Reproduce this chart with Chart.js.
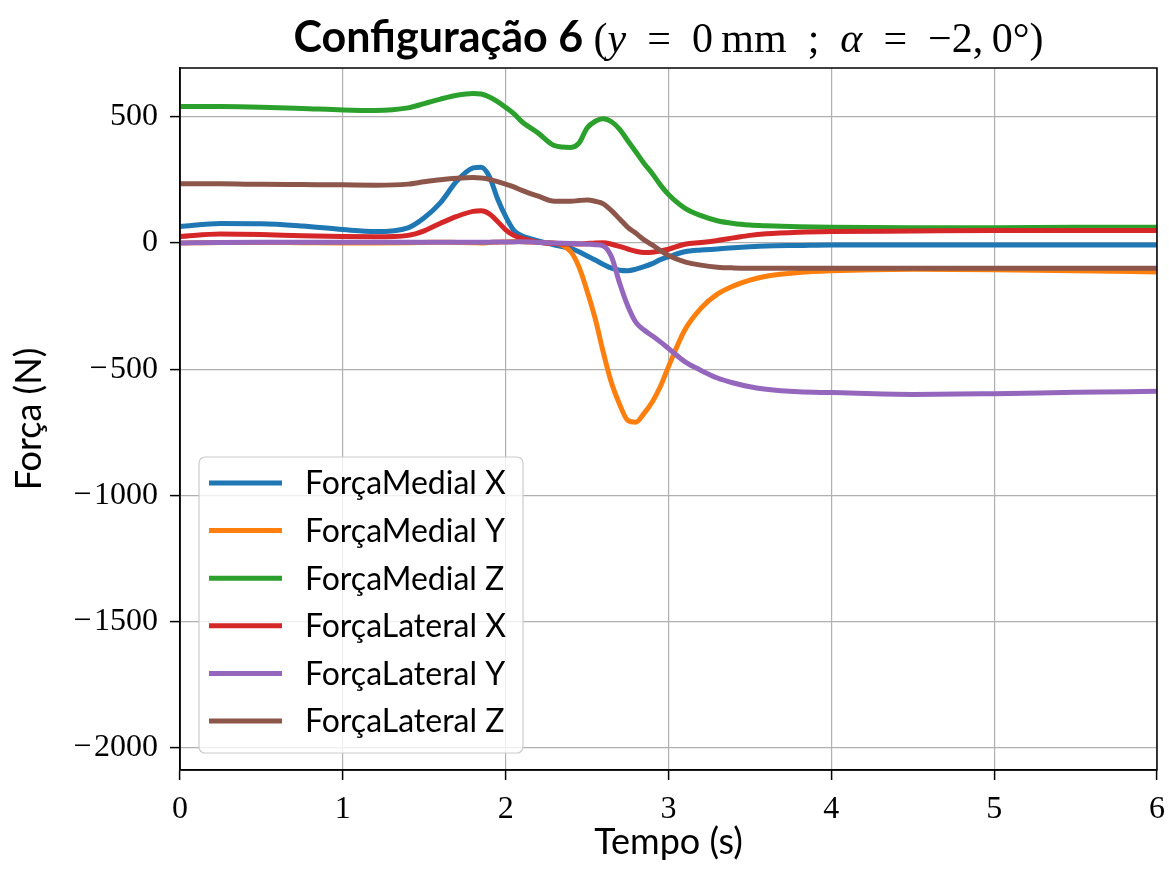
<!DOCTYPE html>
<html>
<head>
<meta charset="utf-8">
<script src="https://cdn.jsdelivr.net/npm/chart.js@4.4.1/dist/chart.umd.min.js"></script>
<style>
  html, body { margin: 0; padding: 0; background: #fff; }
  #grafico { display: block; }
</style>
</head>
<body>
<canvas id="grafico" width="1169" height="870"></canvas>
<script>
// tempo (s)
const tempos = [0, 0.25, 0.5, 0.75, 1.0, 1.2, 1.4, 1.5, 1.6, 1.7, 1.8, 1.85, 1.9, 1.95, 2.0, 2.05, 2.1, 2.2, 2.3, 2.4,
  2.45, 2.5, 2.55, 2.6, 2.65, 2.7, 2.75, 2.8, 2.85, 2.9, 2.95, 3.0, 3.1, 3.2, 3.3, 3.4, 3.5, 3.6, 3.8, 4.0,
  4.5, 5.0, 5.5, 6.0];

const medialX = [65, 77, 76, 67, 53, 45, 60, 100, 160, 245, 297, 300, 263, 175, 105, 50, 28, 8, -8, -22,
  -35, -52, -68, -85, -100, -108, -110, -104, -94, -82, -66, -55, -35, -28, -24, -19, -15, -12, -10, -8,
  -8, -8, -8, -8];
const medialY = [0, 2, 2, 1, 0, 0, 1, 2, 3, 2, 1, 0, 2, 3, 4, 6, 5, 2, 0, -35,
  -95, -190, -300, -435, -555, -640, -703, -710, -675, -630, -569, -490, -345, -258, -203, -170, -147, -132, -117, -110,
  -104, -106, -110, -115];
const medialZ = [540, 540, 538, 533, 527, 525, 535, 552, 570, 585, 592, 590, 578, 560, 537, 512, 480, 435, 385, 378,
  395, 455, 482, 492, 480, 450, 405, 360, 315, 275, 230, 192, 138, 108, 88, 77, 71, 68, 64, 62,
  60, 60, 62, 62];
const lateralX = [25, 35, 33, 28, 25, 24, 30, 48, 78, 105, 125, 127, 115, 85, 52, 30, 18, 3, -2, -4,
  -4, -2, 0, 1, -5, -14, -24, -33, -38, -37, -32, -25, -5, 2, 10, 20, 30, 36, 42, 45,
  47, 49, 49, 49];
const lateralY = [0, 2, 3, 3, 3, 3, 3, 3, 3, 3, 3, 3, 3, 4, 4, 4, 5, 2, 0, -2,
  -3, -5, -7, -12, -55, -160, -250, -315, -345, -368, -392, -418, -470, -505, -535, -555, -570, -580, -590, -593,
  -600, -597, -592, -588];
const lateralZ = [234, 234, 232, 231, 230, 229, 233, 242, 250, 256, 259, 257, 252, 243, 233, 222, 208, 185, 165, 165,
  168, 170, 165, 155, 128, 95, 62, 38, 12, -8, -30, -50, -75, -88, -96, -99, -100, -100, -100, -100,
  -100, -100, -100, -100];

const rotulos = ['ForçaMedial X', 'ForçaMedial Y', 'ForçaMedial Z', 'ForçaLateral X', 'ForçaLateral Y', 'ForçaLateral Z'];
const series = [medialX, medialY, medialZ, lateralX, lateralY, lateralZ];
const cores = ['#1f77b4', '#ff7f0e', '#2ca02c', '#d62728', '#9467bd', '#8c564b'];
const ticksY = [-2000, -1500, -1000, -500, 0, 500];

const SANS = 'Lato, "Open Sans", sans-serif';
const SERIF = '"Liberation Serif", "DejaVu Serif", serif';

function montarDatasets() {
    return series.map((valores, i) => ({
        label: rotulos[i],
        data: valores.map((v, j) => ({ x: tempos[j], y: v })),
        borderColor: cores[i],
        backgroundColor: cores[i],
        borderWidth: 5,
        pointRadius: 0,
        cubicInterpolationMode: 'monotone',
        fill: false,
        order: series.length - i // as ultimas series ficam por cima, como no matplotlib
    }));
}

// titulo com partes em negrito e partes "matematicas"
const tituloPlugin = {
    id: 'titulo',
    afterDraw(chart) {
        const ctx = chart.ctx;
        const esp = '\u2002';
        const partes = [
            { t: 'Configuração 6 ', f: 'bold 43px ' + SANS },
            { t: '(', f: '42px ' + SERIF },
            { t: 'y', f: 'italic 42px ' + SERIF },
            { t: esp + '=' + esp + '0\u2009mm' + esp + ';' + esp, f: '42px ' + SERIF },
            { t: 'α', f: 'italic 42px ' + SERIF },
            { t: esp + '=' + esp + '−2,\u20090°)', f: '42px ' + SERIF }
        ];
        ctx.save();
        let total = 0;
        partes.forEach(p => { ctx.font = p.f; p.w = ctx.measureText(p.t).width; total += p.w; });
        const area = chart.chartArea;
        let x = (area.left + area.right) / 2 - total / 2;
        ctx.fillStyle = '#000';
        ctx.textBaseline = 'alphabetic';
        ctx.textAlign = 'left';
        partes.forEach(p => { ctx.font = p.f; ctx.fillText(p.t, x, 52); x += p.w; });
        ctx.restore();
    }
};

// moldura e legenda no canto inferior esquerdo
const molduraLegenda = {
    id: 'molduraLegenda',
    afterDatasetsDraw(chart) {
        const ctx = chart.ctx;
        const a = chart.chartArea;
        ctx.save();
        ctx.strokeStyle = '#000';
        ctx.lineWidth = 1.5;
        ctx.strokeRect(a.left, a.top, a.right - a.left, a.bottom - a.top);

        const bx = 199, by = 457, bw = 324, bh = 296, r = 6;
        ctx.beginPath();
        ctx.roundRect(bx, by, bw, bh, r);
        ctx.fillStyle = 'rgba(255,255,255,0.8)';
        ctx.fill();
        ctx.strokeStyle = '#cccccc';
        ctx.lineWidth = 1.2;
        ctx.stroke();

        ctx.font = '32px ' + SANS;
        ctx.textBaseline = 'middle';
        ctx.textAlign = 'left';
        chart.data.datasets.forEach((ds, i) => {
            const y = 483 + i * 47.6;
            ctx.beginPath();
            ctx.moveTo(209, y);
            ctx.lineTo(282, y);
            ctx.strokeStyle = ds.borderColor;
            ctx.lineWidth = 5;
            ctx.stroke();
            ctx.fillStyle = '#000';
            ctx.fillText(ds.label, 305, y + 1);
        });
        ctx.restore();
    }
};

const ctx = document.getElementById('grafico').getContext('2d');
const chart = new Chart(ctx, {
    type: 'line',
    data: { datasets: montarDatasets() },
    options: {
        responsive: false,
        animation: false,
        devicePixelRatio: 1,
        layout: { padding: { top: 68, right: 12, left: 0, bottom: 0 } },
        plugins: {
            legend: { display: false },
            tooltip: { enabled: false }
        },
        scales: {
            x: {
                type: 'linear',
                min: 0,
                max: 6,
                afterFit: (s) => { s.height = 100; s.paddingRight = 0; s.paddingLeft = 0; },
                ticks: {
                    stepSize: 1,
                    color: '#000',
                    padding: 10,
                    font: { family: SERIF, size: 32 },
                    maxRotation: 0
                },
                grid: { color: '#b0b0b0', lineWidth: 1.2, tickLength: 10, tickColor: '#000', tickWidth: 1.5 },
                border: { color: '#000', width: 1.5 },
                title: {
                    display: true,
                    text: 'Tempo (s)',
                    color: '#000',
                    font: { family: SANS, size: 36 },
                    padding: { top: 0, bottom: 6 }
                }
            },
            y: {
                type: 'linear',
                min: -2088,
                max: 693,
                afterFit: (s) => { s.width = 180; s.paddingTop = 0; s.paddingBottom = 0; },
                afterBuildTicks: (s) => { s.ticks = ticksY.map(v => ({ value: v })); },
                ticks: {
                    color: '#000',
                    padding: 12,
                    font: { family: SERIF, size: 32 },
                    callback: (v) => String(v).replace('-', '−\u200A')
                },
                grid: { color: '#b0b0b0', lineWidth: 1.2, tickLength: 10, tickColor: '#000', tickWidth: 1.5 },
                border: { color: '#000', width: 1.5 },
                title: {
                    display: true,
                    text: 'Força (N)',
                    color: '#000',
                    font: { family: SANS, size: 36 },
                    padding: { top: 8, bottom: 0 }
                }
            }
        }
    },
    plugins: [tituloPlugin, molduraLegenda]
});
</script>
</body>
</html>
